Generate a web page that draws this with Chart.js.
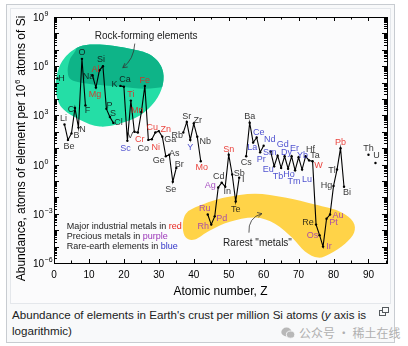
<!DOCTYPE html>
<html>
<head>
<meta charset="utf-8">
<script src="https://cdn.jsdelivr.net/npm/chart.js@4.4.1/dist/chart.umd.min.js"></script>
<style>
  html, body { margin: 0; padding: 0; background: #fff; }
  body { width: 408px; height: 346px; position: relative; overflow: hidden; font-family: "Liberation Sans", Arial, sans-serif; }
  #frame { position: absolute; left: 6px; top: 4px; width: 387px; height: 337px; border: 1px solid #c8ccd1; background: #f8f9fa; }
  #img { position: absolute; left: 10px; top: 8px; width: 379px; height: 294px; border: 1px solid #e4e7eb; background: #fbfbfc; }
  #chart { position: absolute; left: 0; top: 0; }
  #cap { position: absolute; left: 12px; top: 307px; font-size: 11.6px; line-height: 16px; color: #202122; }
  #wm { position: absolute; left: 281px; top: 324px; font-family: "Noto Sans CJK SC", sans-serif; font-size: 12px; color: #b0b0b0; display: flex; align-items: center; gap: 4px; }
  #enl { position: absolute; left: 379px; top: 307px; }
</style>
</head>
<body>
<div id="frame"></div>
<div id="img"></div>
<div id="cap">Abundance of elements in Earth's crust per million Si atoms (<i>y</i> axis is<br>logarithmic)</div>
<div id="wm"><svg width="14" height="12" viewBox="0 0 14 12"><ellipse cx="5.5" cy="5" rx="5.2" ry="4.4" fill="#b8b8b8"/><ellipse cx="9.6" cy="7.6" rx="4.2" ry="3.6" fill="#b8b8b8" stroke="#f8f9fa" stroke-width="0.9"/></svg><span>公众号 · 稀土在线</span></div>
<svg id="enl" width="11" height="10"><rect x="0.5" y="3.5" width="6" height="5" fill="none" stroke="#54595d"/><rect x="3.5" y="0.5" width="6" height="5" fill="#f8f9fa" stroke="#54595d"/></svg>
<canvas id="chart" width="408" height="346"></canvas>
<script>
// element symbols, Z = index + 1
const elements = ['H','He','Li','Be','B','C','N','O','F','Ne','Na','Mg','Al','Si','P','S','Cl','Ar','K','Ca',
  'Sc','Ti','V','Cr','Mn','Fe','Co','Ni','Cu','Zn','Ga','Ge','As','Se','Br','Kr','Rb','Sr','Y','Zr',
  'Nb','Mo','Tc','Ru','Rh','Pd','Ag','Cd','In','Sn','Sb','Te','I','Xe','Cs','Ba','La','Ce','Pr','Nd',
  'Pm','Sm','Eu','Gd','Tb','Dy','Ho','Er','Tm','Yb','Lu','Hf','Ta','W','Re','Os','Ir','Pt','Au','Hg',
  'Tl','Pb','Bi','Po','At','Rn','Fr','Ra','Ac','Th','Pa','U'];

// atoms per 10^6 atoms of Si
const abundance = [1.8e5, null, 2.8e2, 32, 80, 2.8e3, 1.8e2, 2.8e6, 4.0e3, null,
  2.8e5, 5.0e4, 5.6e5, 1.0e6, 2.5e3, 8.0e2, 3.5e2, null, 6.3e4, 5.6e4,
  28, 8.0e3, 100, 90, 1.6e3, 6.3e4, 32, 35, 90, 110,
  50, 3.2, 4.0, 0.09, 0.63, null, 90, 400, 32, 320,
  50, 1.6, null, 9e-4, 2.2e-4, 7e-4, 0.04, 0.08, 0.045, 4.0,
  0.25, 5.6e-3, 0.16, null, 3.2, 355, 22, 45, 5.6, 14,
  null, 6.3, 0.8, 3.5, 0.63, 3.2, 0.56, 3.2, 0.45, 2.8,
  0.5, 3.2, 1.8, 1.6, 2.2e-4, 5e-5, 1e-5, 5e-4, 9e-4, 0.05,
  0.5, 10, 0.045, null, null, null, null, null, null, 4.0, null, 1.25];

const industrial = ['Mg','Al','Ti','Cr','Mn','Fe','Ni','Cu','Zn','Mo','Sn','W','Pb'];
const precious = ['Ru','Rh','Pd','Ag','Os','Ir','Pt','Au'];
const rareEarth = ['Sc','Y','La','Ce','Pr','Nd','Sm','Eu','Gd','Tb','Dy','Ho','Er','Tm','Yb','Lu'];

const xTicks = [0, 10, 20, 30, 40, 50, 60, 70, 80, 90];
const yTickExp = [-6, -3, 0, 3, 6, 9];

// label offsets from each point, px
const labelOffset = {
  H:[4,0], Li:[-1,-6], Be:[1,7], B:[5,2], C:[-4,1], N:[4,2], O:[0,-6], F:[2,5],
  Na:[-4,1], Mg:[-1,7], Al:[-4,-1], Si:[-2,-7], P:[3,-3], S:[3,-3], Cl:[5,0],
  K:[-6,-1], Ca:[1,-7], Sc:[-2,8], Ti:[0,-6], V:[-4,4], Cr:[2,7], Mn:[-4,-2], Fe:[0,-5],
  Co:[-5,9], Ni:[4,8], Cu:[-3,-5], Zn:[7,-2], Ga:[8,3], Ge:[-7,4], As:[5,-1], Se:[-2,8], Br:[3,-3],
  Rb:[-6,3], Sr:[0,-5], Y:[0,8], Zr:[4,-3], Nb:[8,5], Mo:[1,6],
  Ru:[-3,-6], Rh:[-8,2], Pd:[7,2], Ag:[-8,-2], Cd:[-3,-6], In:[2,5], Sn:[0,-5], Sb:[7,-1], Te:[0,8], I:[4,2],
  Cs:[0,6], Ba:[0,-6], La:[-1,5], Ce:[2,-5], Pr:[1,7], Nd:[6,-6], Sm:[-1,1], Eu:[-6,3], Gd:[5,-11],
  Tb:[-3,9], Dy:[2,-4], Ho:[1,6], Er:[3,-8], Tm:[-1,11], Yb:[4,-2], Lu:[5,10], Hf:[5,-7], Ta:[6,-5], W:[6,4],
  Re:[-8,-2], Os:[-7,0], Ir:[6,0], Pt:[7,4], Au:[8,1], Hg:[-7,0], Tl:[-5,1], Pb:[0,-6], Bi:[3,6],
  Th:[0,-6], U:[1,-7]
};

// annotation shapes in (Z, log10 abundance)
const rockBlob = [[0.49,4.57],[1.06,5.67],[3.07,6.52],[7.36,7.20],[13.09,7.32],[21.69,7.07],[27.42,6.71],
  [30.86,5.91],[31.15,4.88],[28.88,3.84],[24.56,2.99],[18.83,2.50],[13.09,2.32],[7.36,2.74],[2.21,3.48]];
const rockCore = [[1.63,8.23],[6.36,7.26],[4.50,6.40],[3.93,5.67],[5.07,5.16],[10.23,4.92],[18.83,4.76],
  [25.99,4.62],[31.72,4.75],[36.02,4.95],[36.02,8.23]];
const rareBlob = [[36.88,-3.84],[37.74,-2.99],[41.75,-2.50],[48.91,-2.01],[57.51,-1.77],[66.10,-2.01],
  [74.70,-2.44],[81.86,-2.87],[85.59,-3.48],[85.87,-4.15],[83.29,-4.82],[79.00,-5.43],[75.56,-5.67],
  [71.83,-5.30],[68.11,-4.45],[63.24,-3.60],[57.51,-3.23],[50.34,-3.48],[44.61,-4.02],[40.31,-4.57],[37.74,-4.45]];

function smooth(ctx, pts) {
  const n = pts.length;
  ctx.moveTo(pts[0][0], pts[0][1]);
  for (let i = 0; i < n; i++) {
    const p0 = pts[(i - 1 + n) % n], p1 = pts[i], p2 = pts[(i + 1) % n], p3 = pts[(i + 2) % n];
    ctx.bezierCurveTo(p1[0] + (p2[0] - p0[0]) / 6, p1[1] + (p2[1] - p0[1]) / 6,
      p2[0] - (p3[0] - p1[0]) / 6, p2[1] - (p3[1] - p1[1]) / 6, p2[0], p2[1]);
  }
  ctx.closePath();
}

function arrow(ctx, a, c, b) {
  ctx.beginPath();
  ctx.moveTo(a[0], a[1]);
  ctx.quadraticCurveTo(c[0], c[1], b[0], b[1]);
  ctx.stroke();
  const ang = Math.atan2(b[1] - c[1], b[0] - c[0]);
  ctx.beginPath();
  ctx.moveTo(b[0] - 5 * Math.cos(ang - 0.5), b[1] - 5 * Math.sin(ang - 0.5));
  ctx.lineTo(b[0], b[1]);
  ctx.lineTo(b[0] - 5 * Math.cos(ang + 0.5), b[1] - 5 * Math.sin(ang + 0.5));
  ctx.stroke();
}

function labelColor(s) {
  if (industrial.includes(s)) return '#e8231c';
  if (precious.includes(s)) return '#9a35b8';
  if (rareEarth.includes(s)) return '#2f32c8';
  return '#111';
}

const FONT = '"Liberation Sans", Arial, sans-serif';

const decor = {
  id: 'decor',
  beforeDatasetsDraw(chart) {
    const { ctx, chartArea: ca } = chart;
    const xs = chart.scales.x, ys = chart.scales.y;
    const P = p => [xs.getPixelForValue(p[0]), ys.getPixelForValue(Math.pow(10, p[1]))];
    ctx.save();
    ctx.beginPath();
    ctx.rect(ca.left, ca.top, ca.width, ca.height);
    ctx.clip();
    ctx.beginPath();
    smooth(ctx, rockBlob.map(P));
    ctx.fillStyle = 'rgb(36,222,166)';
    ctx.fill();
    ctx.save();
    ctx.clip();
    ctx.beginPath();
    smooth(ctx, rockCore.map(P));
    ctx.fillStyle = 'rgb(14,180,136)';
    ctx.fill();
    ctx.restore();
    ctx.beginPath();
    smooth(ctx, rareBlob.map(P));
    ctx.fillStyle = 'rgb(255,211,72)';
    ctx.fill();
    ctx.restore();
  },
  afterDatasetsDraw(chart) {
    const { ctx, chartArea: ca } = chart;
    const xs = chart.scales.x, ys = chart.scales.y;
    const P = (z, lg) => [xs.getPixelForValue(z), ys.getPixelForValue(Math.pow(10, lg))];

    // element labels
    ctx.save();
    ctx.font = '9px ' + FONT;
    ctx.textAlign = 'center';
    ctx.textBaseline = 'middle';
    ctx.globalAlpha = 0.85;
    elements.forEach((s, i) => {
      const v = abundance[i];
      if (v == null) return;
      const off = labelOffset[s] || [0, -6];
      ctx.fillStyle = labelColor(s);
      ctx.fillText(s, xs.getPixelForValue(i + 1) + off[0], ys.getPixelForValue(v) + off[1]);
    });
    ctx.restore();

    // annotations
    ctx.save();
    ctx.fillStyle = '#222';
    ctx.strokeStyle = '#333';
    ctx.lineWidth = 0.8;
    ctx.font = '10px ' + FONT;
    ctx.textBaseline = 'middle';
    let p = P(11.66, 7.80);
    ctx.fillText('Rock-forming elements', p[0], p[1]);
    arrow(ctx, P(23.12, 7.38), P(22.84, 6.40), P(19.68, 5.91));
    p = P(48.4, -4.82);
    ctx.fillText('Rarest "metals"', p[0], p[1]);
    arrow(ctx, P(55.79, -4.15), P(55.5, -3.23), P(59.5, -2.99));

    // legend text
    ctx.font = '9px ' + FONT;
    const lines = [['Major industrial metals in ', 'red', '#e8231c'],
                   ['Precious metals in ', 'purple', '#9a35b8'],
                   ['Rare-earth elements in ', 'blue', '#2f32c8']];
    p = P(3.64, -3.78);
    lines.forEach((l, k) => {
      const yy = p[1] + k * 10;
      ctx.fillStyle = '#222';
      ctx.fillText(l[0], p[0], yy);
      ctx.fillStyle = l[2];
      ctx.fillText(l[1], p[0] + ctx.measureText(l[0]).width, yy);
    });
    ctx.restore();
  },
  afterDraw(chart) {
    const { ctx, chartArea: ca } = chart;
    const xs = chart.scales.x, ys = chart.scales.y;
    const L = Math.round(ca.left), R = Math.round(ca.right), T = Math.round(ca.top), B = Math.round(ca.bottom);
    ctx.save();
    ctx.strokeStyle = '#000';
    ctx.lineWidth = 1;
    ctx.strokeRect(L + 0.5, T + 0.5, R - L, B - T);
    ctx.beginPath();
    for (let d = -6; d <= 9; d++) {
      for (let k = 1; k <= 9; k++) {
        const v = k * Math.pow(10, d);
        if (v > 1.0001e9) break;
        const yy = Math.round(ys.getPixelForValue(v)) + 0.5;
        const len = k === 1 ? 5 : 3;
        ctx.moveTo(L, yy); ctx.lineTo(L + len, yy);
        ctx.moveTo(R, yy); ctx.lineTo(R - len, yy);
      }
    }
    for (let z = 0; z <= 95; z += 5) {
      const xx = Math.round(xs.getPixelForValue(z)) + 0.5;
      const len = z % 10 === 0 ? 4 : 2.5;
      ctx.moveTo(xx, B); ctx.lineTo(xx, B - len);
      ctx.moveTo(xx, T); ctx.lineTo(xx, T + len);
    }
    ctx.stroke();

    // y tick labels with superscripts
    ctx.fillStyle = '#000';
    ctx.textBaseline = 'alphabetic';
    yTickExp.forEach(e => {
      const yy = ys.getPixelForValue(Math.pow(10, e));
      ctx.font = '10px ' + FONT;
      ctx.textAlign = 'left';
      const bx = L - 21;
      ctx.fillText('10', bx, yy + 4);
      const w = ctx.measureText('10').width;
      ctx.font = '7px ' + FONT;
      ctx.fillText(e < 0 ? '\u2212' + (-e) : String(e), bx + w + 0.5, yy - 1);
    });

    // y title
    ctx.save();
    ctx.translate(L - 33, (T + B) / 2 + 9);
    ctx.rotate(-Math.PI / 2);
    const s1 = 'Abundance, atoms of element per 10', s2 = '6', s3 = ' atoms of Si';
    ctx.font = '12px ' + FONT;
    const w1 = ctx.measureText(s1).width, w3 = ctx.measureText(s3).width;
    ctx.font = '8px ' + FONT;
    const w2 = ctx.measureText(s2).width;
    let x0 = -(w1 + w2 + w3) / 2;
    ctx.font = '12px ' + FONT;
    ctx.fillText(s1, x0, 4);
    ctx.font = '8px ' + FONT;
    ctx.fillText(s2, x0 + w1 + 0.5, -1);
    ctx.font = '12px ' + FONT;
    ctx.fillText(s3, x0 + w1 + w2 + 1, 4);
    ctx.restore();
    ctx.restore();
  }
};

new Chart(document.getElementById('chart'), {
  type: 'line',
  data: {
    datasets: [{
      data: elements.map((s, i) => ({ x: i + 1, y: abundance[i] })),
      borderColor: '#000',
      backgroundColor: '#000',
      borderWidth: 1.1,
      pointRadius: 1.2,
      pointBorderWidth: 0,
      pointHoverRadius: 0,
      tension: 0,
      spanGaps: false
    }]
  },
  options: {
    responsive: false,
    devicePixelRatio: 1,
    animation: false,
    events: [],
    layout: { padding: { left: 54, right: 21, top: 17, bottom: 43 } },
    plugins: { legend: { display: false }, tooltip: { enabled: false } },
    scales: {
      x: {
        type: 'linear',
        min: 0,
        max: 95.3,
        grid: { display: false, drawTicks: false },
        border: { display: false },
        afterBuildTicks: s => { s.ticks = xTicks.map(v => ({ value: v })); },
        afterFit: s => { s.height = 40; },
        ticks: { font: { size: 10, family: FONT }, color: '#000', padding: 6, maxRotation: 0 },
        title: { display: true, text: 'Atomic number, Z', font: { size: 12, family: FONT }, color: '#000', padding: { top: 0, bottom: 4 } }
      },
      y: {
        type: 'logarithmic',
        min: 1e-6,
        max: 1e9,
        display: false
      }
    }
  },
  plugins: [decor]
});
</script>
</body>
</html>
